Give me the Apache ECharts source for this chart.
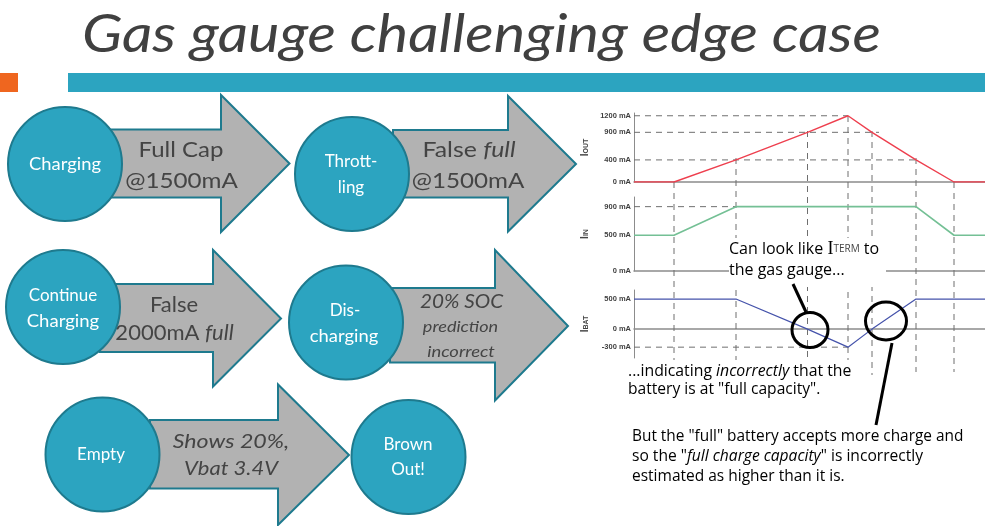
<!DOCTYPE html>
<html><head><meta charset="utf-8">
<style>html,body{margin:0;padding:0;background:#fff}#c{width:985px;height:526px}</style>
<script src="https://cdn.jsdelivr.net/npm/echarts@6/dist/echarts.min.js"></script>
</head><body><div id="c"></div>
<script>
var timeMarks = [0, 40, 102, 173.5, 214, 238, 282, 320, 351];
var iOutMa = [0, 0, 400, 900, 1200, 900, 400, 0, 0];
var iInMa = [500, 500, 900, 900, 900, 900, 900, 500, 500];
var iBatMa = [500, 500, 500, 0, -300, 0, 500, 500, 500];
var iOutTicks = [0, 400, 900, 1200];
var iInTicks = [0, 500, 900];
var iBatTicks = [-300, 0, 500];
var guideTimes = [40, 102, 173.5, 214, 238, 282, 320];
var guideTop = [69, 45, 18, 3, 18, 45, 69];
var guideBottom = [250, 250, 250, 250, 262, 259, 259];

function pairs(vals){ return timeMarks.map(function(t,i){return [t,vals[i]];}); }
var GRAY='#8c8c8c', DASH='#6f6f6f', FONT='Lato', NOTE='"Open Sans"';
var tickLabel={show:true,color:'#3f3f3f',fontFamily:'Liberation Sans',fontWeight:'bold',fontSize:7.5,margin:3,
  formatter:function(v){return v+' mA';}};
function xA(i){return {type:'value',gridIndex:i,min:0,max:351,show:i<3,axisLabel:{show:false},axisTick:{show:false},splitLine:{show:false},
  axisLine:{show:true,onZero:true,lineStyle:{color:GRAY,width:1.5}}};}
function yA(i,min,max,ticks,sym){return {type:'value',gridIndex:i,min:min,max:max,
  axisLabel:Object.assign({customValues:ticks},tickLabel),
  axisTick:{show:false},splitLine:{show:false},
  axisLine:{show:true,onZero:false,lineStyle:{color:GRAY,width:1}},
  name:'{a|I}{b|'+sym+'}',nameLocation:'middle',nameGap:44,nameRotate:90,
  nameTextStyle:{rich:{a:{fontSize:10,color:'#444',fontFamily:'Liberation Sans',fontWeight:'bold'},b:{fontSize:7,color:'#444',fontFamily:'Liberation Sans',fontWeight:'bold',verticalAlign:'bottom'}}}};}
function line(i,vals,color,w){return {type:'line',xAxisIndex:i,yAxisIndex:i,data:pairs(vals),symbol:'none',silent:true,animation:false,z:4,lineStyle:{color:color,width:w}};}
function dash(i,data){return {type:'line',xAxisIndex:i,yAxisIndex:i,data:data,symbol:'none',silent:true,animation:false,z:3,lineStyle:{color:DASH,width:1,type:[6,5]}};}

var series=[
  dash(0,[[0,1200],[timeMarks[4],1200]]),
  dash(0,[[0,900],[245,900]]),
  dash(0,[[0,400],[timeMarks[6],400]]),
  dash(1,[[0,900],[timeMarks[2],900]]),
  dash(2,[[0,-300],[timeMarks[4],-300]]),
  line(0,iOutMa,'#ee3f4e',1.4),
  line(1,iInMa,'#74c095',1.6),
  line(2,iBatMa,'#4553ab',1.2)
];
guideTimes.forEach(function(t,i){ series.push(dash(3,[[t,guideTop[i]],[t,guideBottom[i]]])); });

/* slide shapes */
var arrowList=[
 [100,129.5,197.5,221,95,232,289.5,163.5],
 [393,130,197.5,508,96,231.5,576,164],
 [100,284,352,213,250,386.5,281,318.5],
 [390,288,362.5,495,250,400.5,568,326],
 [150,420,488.5,278,384.5,525,349,455]];
var circleList=[[65,164],[352,174],[63,307],[346,322.5],[102.5,454.5],[408.5,457]];
var gfx=[];
function T(x,y,text,size,color,fam,align,extra,sx){
  var st={text:text,fill:color,font:size+'px '+fam,textAlign:align||'center',textVerticalAlign:'middle'};
  if(extra) Object.assign(st,extra);
  gfx.push({type:'text',x:x,y:y,scaleX:sx||1,z:30,silent:true,style:st});
}
gfx.push({type:'rect',shape:{x:0,y:73,width:18,height:19},z:10,silent:true,style:{fill:'#ef661f'}});
gfx.push({type:'rect',shape:{x:68,y:73,width:917,height:19},z:10,silent:true,style:{fill:'#2ca4c0'}});
T(82,35,'Gas gauge challenging edge case',53,'#404040','Lato','left',{font:'italic 400 53px Lato'},1.12);
arrowList.forEach(function(a){
  gfx.push({type:'polygon',z:12,silent:true,shape:{points:[[a[0],a[1]],[a[3],a[1]],[a[3],a[4]],[a[6],a[7]],[a[3],a[5]],[a[3],a[2]],[a[0],a[2]]]},
    style:{fill:'#b2b2b2',stroke:'#1e7a8e',lineWidth:2}});
});
circleList.forEach(function(c){
  gfx.push({type:'circle',z:14,silent:true,shape:{cx:c[0],cy:c[1],r:57},style:{fill:'#2ca4c0',stroke:'#1e7a8e',lineWidth:2}});
});
var W='#ffffff', D='#444444';
T(65,165,'Charging',17,W,FONT,'center',null,1.08);
T(351,162,'Thrott-',17,W,FONT); T(351,188,'ling',17,W,FONT);
T(63,296,'Continue',17,W,FONT); T(63,322,'Charging',17,W,FONT,'center',null,1.09);
T(345,311,'Dis-',17,W,FONT); T(344,337,'charging',17,W,FONT,'center',null,1.08);
T(101,455,'Empty',17,W,FONT);
T(408,445,'Brown',17,W,FONT); T(408,470,'Out!',17,W,FONT);
var mixed={rich:{a:{font:'22px Lato',fill:D},b:{font:'italic 22px Lato',fill:D}}};
T(181,150,'Full Cap',22,D,FONT,'center',null,1.09);
T(181.5,181,'@1500mA',22,D,FONT,'center',null,1.1);
T(469,150,'{a|False }{b|full}',22,D,FONT,'center',mixed,1.13);
T(468,181,'@1500mA',22,D,FONT,'center',null,1.1);
T(174,305,'False',22,D,FONT);
T(174.5,333,'{a|2000mA }{b|full}',22,D,FONT,'center',mixed);
T(461.5,302,'20% SOC',19,D,FONT,'center',{font:'italic 19px Lato'},1.09);
T(460.5,327,'prediction',16,D,FONT,'center',{font:'italic 16px Lato'},1.13);
T(461,352,'incorrect',16,D,FONT,'center',{font:'italic 16px Lato'},1.15);
T(231,442,'Shows 20%,',20,D,FONT,'center',{font:'italic 20px Lato'},1.16);
T(231,469,'Vbat 3.4V',20,D,FONT,'center',{font:'italic 20px Lato'},1.1);

/* annotations */
gfx.push({type:'rect',z:20,silent:true,shape:{x:729,y:238,width:157,height:49},style:{fill:'#fff'}});
gfx.push({type:'rect',z:20,silent:true,shape:{x:625,y:360,width:237,height:40},style:{fill:'#fff'}});
var BK='#000000';
function noteRich(sz){return {a:{font:sz+'px '+NOTE,fill:BK},i:{font:'italic '+sz+'px '+NOTE,fill:BK},s:{font:'10px '+NOTE,fill:'#444'},c:{font:'18px "Liberation Serif"',fill:BK}};}
function N(x,y,t,sz){T(x,y,t,sz,BK,NOTE,'left',{rich:noteRich(sz)});}
N(729,249,'{a|Can look like }{c|I}{s|TERM}{a| to}',16);
N(729,270,'{a|the gas gauge...}',16);
N(628,371,'{a|...indicating }{i|incorrectly}{a| that the}',15.8);
N(628,390,'{a|battery is at "full capacity".}',15.6);
N(632,437,'{a|But the "full" battery accepts more charge and}',15.4);
N(632,457,'{a|so the "}{i|full charge capacity}{a|" is incorrectly}',15.6);
N(632,477,'{a|estimated as higher than it is.}',15.5);
gfx.push({type:'ellipse',z:25,silent:true,shape:{cx:810,cy:330,rx:18,ry:17.5},style:{fill:'transparent',stroke:'#000',lineWidth:3}});
gfx.push({type:'ellipse',z:25,silent:true,shape:{cx:886,cy:321,rx:20.5,ry:19},style:{fill:'transparent',stroke:'#000',lineWidth:3}});
gfx.push({type:'line',z:25,silent:true,shape:{x1:793,y1:284,x2:806,y2:312},style:{stroke:'#000',lineWidth:3}});
gfx.push({type:'line',z:25,silent:true,shape:{x1:892,y1:343,x2:876,y2:425},style:{stroke:'#000',lineWidth:3}});

var chart=echarts.init(document.getElementById('c'),null,{renderer:'canvas'});
chart.setOption({
  animation:false,backgroundColor:'#fff',
  grid:[
    {left:634,right:0,top:113,height:69},
    {left:634,right:0,top:197,height:74},
    {left:634,right:0,top:290,height:68},
    {left:634,right:0,top:113,height:263}
  ],
  xAxis:[xA(0),xA(1),xA(2),xA(3)],
  yAxis:[
    yA(0,0,1250,iOutTicks,'OUT'),
    yA(1,0,1035,iInTicks,'IN'),
    yA(2,-480,650,iBatTicks,'BAT'),
    {type:'value',gridIndex:3,min:0,max:263,inverse:true,show:false}
  ],
  series:series,
  graphic:{elements:gfx}
});
</script></body></html>
